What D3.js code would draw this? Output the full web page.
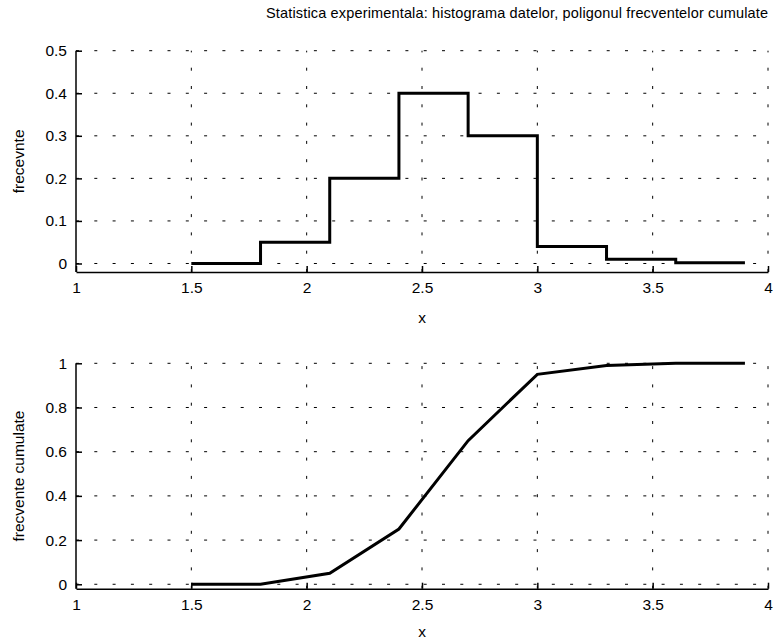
<!DOCTYPE html>
<html lang="en">
<head>
    <meta charset="UTF-8">
    <title>Histograma si frecvente cumulate</title>
    <script src="https://d3js.org/d3.v7.min.js"></script>
    <style>
        body { margin: 0; background: #fff; }
        svg text { font-family: Arial, "Liberation Sans", sans-serif; fill: #000; }
        .grid line { stroke: #000; stroke-width: 1; stroke-dasharray: 3,15.3; }
        .axis path, .axis line { stroke: #000; stroke-width: 1.5; }
    </style>
</head>
<body>
<script>
    // bin edges and relative frequencies (histogram)
    var binEdges = [1.5, 1.8, 2.1, 2.4, 2.7, 3.0, 3.3, 3.6, 3.9];
    var binFreq = [0, 0.05, 0.2, 0.4, 0.3, 0.04, 0.01, 0.002];
    // cumulative frequencies at the bin edges
    var cumFreq = [0, 0, 0.05, 0.25, 0.65, 0.95, 0.99, 1.0, 1.0];

    var xTicks = [1, 1.5, 2, 2.5, 3, 3.5, 4];
    var xTickLabels = ["1", "1.5", "2", "2.5", "3", "3.5", "4"];
    var yTicksTop = [0, 0.1, 0.2, 0.3, 0.4, 0.5];
    var yTickLabelsTop = ["0", "0.1", "0.2", "0.3", "0.4", "0.5"];
    var yTicksBottom = [0, 0.2, 0.4, 0.6, 0.8, 1];
    var yTickLabelsBottom = ["0", "0.2", "0.4", "0.6", "0.8", "1"];

    var titleText = "Statistica experimentala: histograma datelor, poligonul frecventelor cumulate";

    var W = 773, H = 640;
    var left = 76, right = 768;

    var svg = d3.select("body").append("svg")
        .attr("width", W)
        .attr("height", H);

    var x = d3.scaleLinear().domain([1, 4]).range([left, right]);

    // one panel: y scale, ticks, axis labels
    function panel(yDomain, yRange, yTicks, yLabels, ylabel, xlabelY) {
        var y = d3.scaleLinear().domain(yDomain).range(yRange);
        var g = svg.append("g");
        var yTop = y(yTicks[yTicks.length - 1]);

        // dotted grid
        var grid = g.append("g").attr("class", "grid");
        grid.selectAll(".h").data(yTicks).enter().append("line")
            .attr("x1", left).attr("x2", right)
            .attr("y1", function(d) { return y(d); })
            .attr("y2", function(d) { return y(d); });
        grid.selectAll(".v").data(xTicks.slice(1)).enter().append("line")
            .attr("x1", function(d) { return x(d); })
            .attr("x2", function(d) { return x(d); })
            .attr("y1", yRange[0]).attr("y2", yTop);

        // axes (ticks pointing inward)
        var xAxis = g.append("g")
            .attr("class", "axis")
            .attr("transform", "translate(0," + yRange[0] + ")")
            .call(d3.axisBottom(x)
                .tickValues(xTicks)
                .tickFormat(function(d, i) { return xTickLabels[i]; })
                .tickSizeInner(-6).tickSizeOuter(0).tickPadding(10));
        xAxis.selectAll("text").style("font-size", "15.5px");

        var yAxis = g.append("g")
            .attr("class", "axis")
            .attr("transform", "translate(" + left + ",0)")
            .call(d3.axisLeft(y)
                .tickValues(yTicks)
                .tickFormat(function(d, i) { return yLabels[i]; })
                .tickSizeInner(-6).tickSizeOuter(0).tickPadding(9));
        yAxis.selectAll("text").style("font-size", "15.5px");
        // left axis line only goes up to the highest tick
        yAxis.select(".domain").attr("d", "M0," + yRange[0] + "V" + yTop);

        g.append("text")
            .attr("x", (left + right) / 2)
            .attr("y", xlabelY)
            .attr("text-anchor", "middle")
            .style("font-size", "15.5px")
            .text("x");

        var yc = (yRange[0] + yTop) / 2;
        g.append("text")
            .attr("transform", "translate(24," + yc + ") rotate(-90)")
            .attr("text-anchor", "middle")
            .style("font-size", "15.5px")
            .text(ylabel);

        return { g: g, y: y };
    }

    // Top: histogram as stairs
    var histPanel = panel([-0.02, 0.5], [272, 50.7], yTicksTop, yTickLabelsTop, "frecevnte", 323);
    var stairs = [];
    binFreq.forEach(function(f, i) {
        stairs.push([binEdges[i], f]);
        stairs.push([binEdges[i + 1], f]);
    });
    histPanel.g.append("path")
        .datum(stairs)
        .attr("fill", "none")
        .attr("stroke", "#000")
        .attr("stroke-width", 3)
        .attr("d", d3.line()
            .x(function(d) { return x(d[0]); })
            .y(function(d) { return histPanel.y(d[1]); }));

    // Bottom: cumulative frequency polygon
    var cumPanel = panel([-0.02, 1], [588.7, 363.3], yTicksBottom, yTickLabelsBottom, "frecvente cumulate", 637);
    cumPanel.g.append("path")
        .datum(cumFreq)
        .attr("fill", "none")
        .attr("stroke", "#000")
        .attr("stroke-width", 3)
        .attr("d", d3.line()
            .x(function(d, i) { return x(binEdges[i]); })
            .y(function(d) { return cumPanel.y(d); }));

    // Title, spaced out to span the same width as the reference
    var title = svg.append("text")
        .attr("x", 266)
        .attr("y", 18)
        .style("font-size", "14.5px")
        .text(titleText);
    var len = title.node().getComputedTextLength();
    var spacing = (502 - len) / (titleText.length - 1);
    title.style("letter-spacing", spacing + "px");
</script>
</body>
</html>
